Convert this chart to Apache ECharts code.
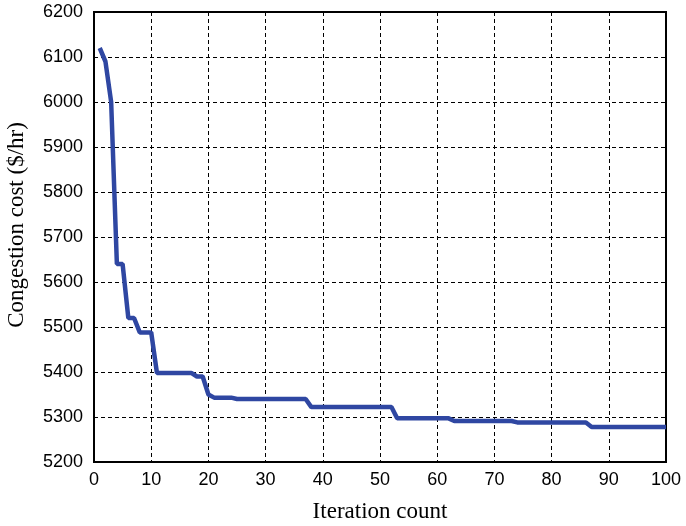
<!DOCTYPE html>
<html lang="en">
<head>
    <meta charset="UTF-8">
    <title>Congestion cost</title>
    <script src="https://cdn.jsdelivr.net/npm/echarts@6/dist/echarts.min.js"></script>
    <style>
        body{ margin: 0; background: #fff; }
        #chart{ width: 686px; height: 526px; }
    </style>
</head>
<body>
<div id="chart"></div>
<script>
    // iteration number and congestion cost
    var iterations = [];
    for (var i = 1; i <= 100; i++) iterations.push(i);
    var costValues = [
        6120, 6090, 6000, 5640, 5640, 5520, 5520, 5488, 5488, 5488,
        5398, 5398, 5398, 5398, 5398, 5398, 5398, 5390, 5390, 5350,
        5343, 5343, 5343, 5343, 5340, 5340, 5340, 5340, 5340, 5340,
        5340, 5340, 5340, 5340, 5340, 5340, 5340, 5322, 5322, 5322,
        5322, 5322, 5322, 5322, 5322, 5322, 5322, 5322, 5322, 5322,
        5322, 5322, 5297, 5297, 5297, 5297, 5297, 5297, 5297, 5297,
        5297, 5297, 5291, 5291, 5291, 5291, 5291, 5291, 5291, 5291,
        5291, 5291, 5291, 5288, 5288, 5288, 5288, 5288, 5288, 5288,
        5288, 5288, 5288, 5288, 5288, 5288, 5278, 5278, 5278, 5278,
        5278, 5278, 5278, 5278, 5278, 5278, 5278, 5278, 5278, 5278
    ];

    var points = [];
    for (var k = 0; k < iterations.length; k++) {
        points.push([iterations[k], costValues[k]]);
    }

    var dashed = { show: true, lineStyle: { color: '#000', width: 1, type: [4, 3] } };
    var plain = function (v) { return String(v); };

    var myChart = echarts.init(document.getElementById('chart'));
    myChart.setOption({
        animation: false,
        grid: {
            left: 94, right: 20, top: 12, bottom: 64, outerBoundsMode: 'none',
            show: true, borderColor: '#000', borderWidth: 2
        },
        xAxis: {
            type: 'value', min: 0, max: 100, interval: 10,
            name: 'Iteration count', nameLocation: 'middle', nameGap: 38,
            nameTextStyle: { fontFamily: 'Liberation Serif', fontSize: 23, color: '#000' },
            axisLine: { lineStyle: { color: '#000', width: 2 } },
            axisTick: { show: false },
            axisLabel: { fontFamily: 'Liberation Sans', fontSize: 18, color: '#000', margin: 9, formatter: plain },
            splitLine: dashed
        },
        yAxis: {
            type: 'value', min: 5200, max: 6200, interval: 100,
            name: 'Congestion cost ($/hr)', nameLocation: 'middle', nameGap: 66,
            nameTextStyle: { fontFamily: 'Liberation Serif', fontSize: 23, color: '#000', padding: [0, 0, 0, 24] },
            axisLine: { show: true, lineStyle: { color: '#000', width: 2 } },
            axisTick: { show: false },
            axisLabel: { fontFamily: 'Liberation Sans', fontSize: 18, color: '#000', margin: 11, formatter: plain },
            splitLine: dashed
        },
        series: [{
            type: 'line',
            data: points,
            showSymbol: false,
            lineStyle: { color: '#2f47a2', width: 4.5 },
            z: 5
        }]
    });
</script>
</body>
</html>
